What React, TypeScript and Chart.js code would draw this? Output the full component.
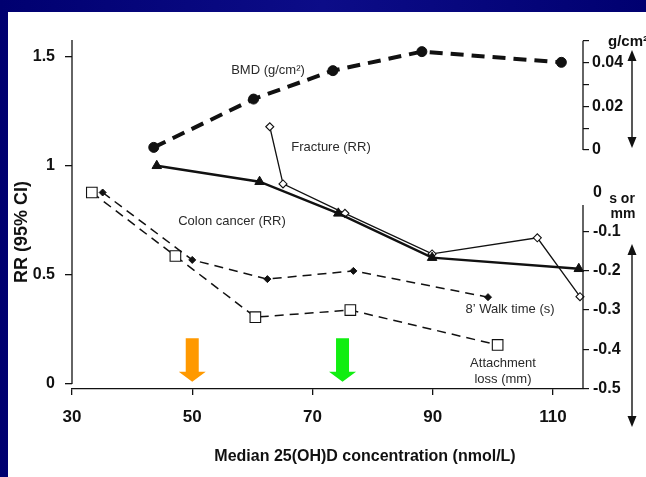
import React, { useEffect, useRef } from 'react';
import { Chart, registerables } from 'chart.js';

Chart.register(...registerables);

// ---------- data ----------
const xTickValues = [30, 50, 70, 90, 110];
const rrTickValues = [0, 0.5, 1, 1.5];
const bmdTickValues = [0, 0.01, 0.02, 0.03, 0.04, 0.05];
const bmdLabelledTicks = [0, 0.02, 0.04];
const secTickValues = [0, -0.1, -0.2, -0.3, -0.4, -0.5];

// BMD (g/cm2), right upper axis
const bmdX = [43.6, 60.2, 73.4, 88.2, 111.4];
const bmdY = [0.0012, 0.0233, 0.0363, 0.045, 0.0401];
// Colon cancer (RR)
const colonX = [44.1, 61.2, 74.3, 89.9, 114.3];
const colonY = [1.0, 0.927, 0.782, 0.579, 0.528];
// Fracture (RR)
const fractureX = [62.9, 65.1, 75.4, 89.9, 107.4, 114.5];
const fractureY = [1.179, 0.917, 0.782, 0.596, 0.67, 0.4];
// 8' Walk time (s), right lower axis
const walkX = [35.1, 50.0, 62.5, 76.8, 99.2];
const walkY = [0, -0.172, -0.221, -0.2, -0.267];
// Attachment loss (mm), right lower axis
const attachX = [33.3, 47.2, 60.5, 76.3, 100.8];
const attachY = [0, -0.162, -0.318, -0.3, -0.389];
// highlighted concentrations
const arrowValues = [50, 75];
const arrowColors = ['#ff9900', '#11ee11'];

// ---------- layout ----------
const W = 646;
const H = 477;
const AREA = { left: 72, right: 583, top: 40, bottom: 389 };
const FONT = '"Liberation Sans", Arial, Helvetica, sans-serif';
const INK = '#111111';

const pts = (xs: number[], ys: number[]) => xs.map((x, i) => ({ x, y: ys[i] }));

const annotations = [
  { text: 'BMD (g/cm²)', x: 268, y: 70 },
  { text: 'Fracture (RR)', x: 331, y: 147 },
  { text: 'Colon cancer (RR)', x: 232, y: 221 },
  { text: '8’ Walk time (s)', x: 510, y: 309 },
  { text: 'Attachment', x: 503, y: 363 },
  { text: 'loss (mm)', x: 503, y: 379 },
];

const decorPlugin = {
  id: 'decor',
  afterDraw(chart: any) {
    const ctx = chart.ctx as CanvasRenderingContext2D;
    const { x, y, yBmd, ySec } = chart.scales;
    ctx.save();
    ctx.strokeStyle = INK;
    ctx.lineWidth = 1.3;
    const vline = (px: number, y1: number, y2: number) => {
      ctx.beginPath();
      ctx.moveTo(px, y1);
      ctx.lineTo(px, y2);
      ctx.stroke();
    };
    // axis lines (partial)
    vline(AREA.left, y.getPixelForValue(0), AREA.top);
    vline(AREA.right, yBmd.getPixelForValue(0), yBmd.getPixelForValue(0.05));
    vline(AREA.right, ySec.getPixelForValue(-0.032), ySec.getPixelForValue(-0.5));

    // coloured arrows
    arrowValues.forEach((v, i) => {
      const cx = x.getPixelForValue(v);
      const top = y.getPixelForValue(0.21);
      const tip = y.getPixelForValue(0.01);
      const hs = tip - 10;
      ctx.fillStyle = arrowColors[i];
      ctx.beginPath();
      ctx.moveTo(cx - 6.5, top);
      ctx.lineTo(cx + 6.5, top);
      ctx.lineTo(cx + 6.5, hs);
      ctx.lineTo(cx + 13.5, hs);
      ctx.lineTo(cx, tip);
      ctx.lineTo(cx - 13.5, hs);
      ctx.lineTo(cx - 6.5, hs);
      ctx.closePath();
      ctx.fill();
    });

    // double-headed arrows at right
    const dbl = (px: number, y1: number, y2: number) => {
      ctx.strokeStyle = INK;
      ctx.fillStyle = INK;
      ctx.lineWidth = 1.4;
      vline(px, y1 + 8, y2 - 8);
      ctx.beginPath();
      ctx.moveTo(px, y1);
      ctx.lineTo(px + 4.5, y1 + 11);
      ctx.lineTo(px - 4.5, y1 + 11);
      ctx.closePath();
      ctx.fill();
      ctx.beginPath();
      ctx.moveTo(px, y2);
      ctx.lineTo(px + 4.5, y2 - 11);
      ctx.lineTo(px - 4.5, y2 - 11);
      ctx.closePath();
      ctx.fill();
    };
    dbl(632, 50, 148);
    dbl(632, 244, 427);

    // annotations
    ctx.fillStyle = '#2a2a2a';
    ctx.font = `13px ${FONT}`;
    ctx.textAlign = 'center';
    ctx.textBaseline = 'middle';
    annotations.forEach((a) => ctx.fillText(a.text, a.x, a.y));

    // titles / unit headers
    ctx.fillStyle = INK;
    ctx.font = `bold 16px ${FONT}`;
    ctx.fillText('Median 25(OH)D concentration (nmol/L)', 365, 457);
    ctx.textAlign = 'left';
    ctx.font = `bold 15px ${FONT}`;
    ctx.fillText('g/cm²', 608, 42);
    ctx.textAlign = 'center';
    ctx.font = `bold 14px ${FONT}`;
    ctx.fillText('s or', 622, 199);
    ctx.fillText('mm', 623, 214);

    ctx.save();
    ctx.translate(22, 232);
    ctx.rotate(-Math.PI / 2);
    ctx.font = `bold 18px ${FONT}`;
    ctx.fillText('RR (95% CI)', 0, 0);
    ctx.restore();

    ctx.restore();
  },
};

const tickFont = (size: number) => ({ family: FONT, size, weight: 'bold' as const });

// right-hand axes sit on the same line: zero width, labels not clipped
const zeroWidth = (s: any) => {
  s.width = 0;
  s._computeLabelArea = () => undefined;
};

export default function App() {
  const ref = useRef<HTMLCanvasElement | null>(null);

  useEffect(() => {
    if (!ref.current) return;
    const chart = new Chart(ref.current, {
      type: 'line',
      data: {
        datasets: [
          {
            label: 'BMD (g/cm²)',
            data: pts(bmdX, bmdY),
            yAxisID: 'yBmd',
            borderColor: INK,
            borderWidth: 4,
            borderDash: [13, 8],
            pointStyle: 'circle',
            pointRadius: 5,
            pointBackgroundColor: INK,
            pointBorderColor: INK,
            pointBorderWidth: 1,
            clip: false,
          },
          {
            label: 'Colon cancer (RR)',
            data: pts(colonX, colonY),
            yAxisID: 'y',
            borderColor: INK,
            borderWidth: 2.4,
            pointStyle: 'triangle',
            pointRadius: 5.5,
            pointBackgroundColor: INK,
            pointBorderColor: INK,
            pointBorderWidth: 1,
            clip: false,
          },
          {
            label: 'Fracture (RR)',
            data: pts(fractureX, fractureY),
            yAxisID: 'y',
            borderColor: INK,
            borderWidth: 1.3,
            pointStyle: 'rectRot',
            pointRadius: 4,
            pointBackgroundColor: '#ffffff',
            pointBorderColor: INK,
            pointBorderWidth: 1.1,
            clip: false,
          },
          {
            label: "8' Walk time (s)",
            data: pts(walkX, walkY),
            yAxisID: 'ySec',
            borderColor: INK,
            borderWidth: 1.5,
            borderDash: [9, 6],
            pointStyle: 'rectRot',
            pointRadius: 3.5,
            pointBackgroundColor: INK,
            pointBorderColor: INK,
            pointBorderWidth: 1,
            clip: false,
          },
          {
            label: 'Attachment loss (mm)',
            data: pts(attachX, attachY),
            yAxisID: 'ySec',
            borderColor: INK,
            borderWidth: 1.5,
            borderDash: [9, 6],
            pointStyle: 'rect',
            pointRadius: 7.5,
            pointBackgroundColor: '#ffffff',
            pointBorderColor: INK,
            pointBorderWidth: 1.1,
            clip: false,
          },
        ],
      },
      options: {
        animation: false,
        responsive: false,
        devicePixelRatio: 1,
        layout: { padding: { left: 0, top: AREA.top, right: W - AREA.right, bottom: 0 } },
        plugins: { legend: { display: false }, tooltip: { enabled: false }, title: { display: false } },
        elements: { line: { tension: 0 } },
        scales: {
          x: {
            type: 'linear',
            min: 30,
            max: 115,
            afterBuildTicks: (s: any) => {
              s.ticks = xTickValues.map((v) => ({ value: v }));
            },
            afterFit: (s: any) => {
              s.height = H - AREA.bottom;
            },
            border: { display: true, color: INK, width: 1.3 },
            grid: { drawOnChartArea: false, drawTicks: true, tickLength: 6, color: INK, lineWidth: 1.3 },
            ticks: {
              font: tickFont(17),
              color: INK,
              padding: 12,
              maxRotation: 0,
              autoSkip: false,
              callback: (v: any) => String(v),
            },
          },
          y: {
            type: 'linear',
            position: 'left',
            min: -0.0229,
            max: 1.5765,
            afterBuildTicks: (s: any) => {
              s.ticks = rrTickValues.map((v) => ({ value: v }));
            },
            afterFit: (s: any) => {
              s.width = AREA.left;
            },
            border: { display: false },
            grid: { drawOnChartArea: false, drawTicks: true, tickLength: 7, color: INK, lineWidth: 1.3 },
            ticks: { font: tickFont(16), color: INK, padding: 10, callback: (v: any) => String(v) },
          },
          yBmd: {
            type: 'linear',
            position: 'right',
            weight: 0,
            min: -0.10933,
            max: 0.05032,
            afterBuildTicks: (s: any) => {
              s.ticks = bmdTickValues.map((v) => ({ value: v }));
            },
            afterFit: zeroWidth,
            border: { display: false },
            grid: { drawOnChartArea: false, drawTicks: true, tickLength: 6, color: INK, lineWidth: 1.2 },
            ticks: {
              font: tickFont(16),
              color: INK,
              padding: 3,
              autoSkip: false,
              callback: (v: any) => (bmdLabelledTicks.includes(v) ? (v === 0 ? '0' : String(v)) : ''),
            },
          },
          ySec: {
            type: 'linear',
            position: 'right',
            weight: 1,
            min: -0.5013,
            max: 0.389,
            afterBuildTicks: (s: any) => {
              s.ticks = secTickValues.map((v) => ({ value: v }));
            },
            afterFit: zeroWidth,
            border: { display: false },
            grid: {
              drawOnChartArea: false,
              drawTicks: true,
              tickLength: 6,
              lineWidth: 1.2,
              tickColor: (c: any) => (c.tick && c.tick.value === 0 ? 'rgba(0,0,0,0)' : INK),
              color: INK,
            },
            ticks: { font: tickFont(16), color: INK, padding: 4, autoSkip: false, callback: (v: any) => String(v) },
          },
        },
      },
      plugins: [decorPlugin],
    } as any);
    return () => chart.destroy();
  }, []);

  return (
    <div
      style={{
        position: 'fixed',
        left: 0,
        top: 0,
        width: W,
        height: H,
        overflow: 'hidden',
        background: 'linear-gradient(90deg, #000070 0%, #0c0c88 50%, #000070 100%)',
      }}
    >
      <div style={{ position: 'absolute', left: 8, top: 12, right: 0, bottom: 0, background: '#ffffff' }} />
      <canvas ref={ref} width={W} height={H} style={{ position: 'absolute', left: 0, top: 0, width: W, height: H }} />
    </div>
  );
}
